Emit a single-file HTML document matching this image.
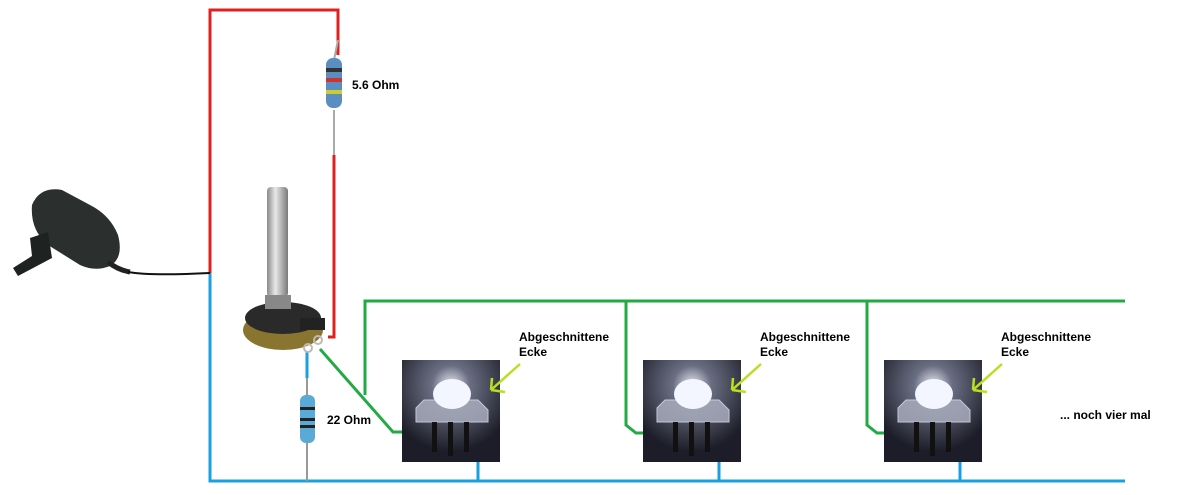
<!DOCTYPE html>
<html><head><style>
html,body{margin:0;padding:0;background:#fff;}
svg{display:block;}
text{font-family:"Liberation Sans",sans-serif;font-weight:bold;font-size:12px;fill:#000;}
</style></head><body>
<svg width="1181" height="495" viewBox="0 0 1181 495" xmlns="http://www.w3.org/2000/svg">
<defs>
<radialGradient id="led" cx="50%" cy="25%" r="65%">
<stop offset="0" stop-color="#e8eaf4"/><stop offset="0.3" stop-color="#6a6e82"/><stop offset="1" stop-color="#1c1d28"/>
</radialGradient>
<linearGradient id="shaft" x1="0" x2="1"><stop offset="0" stop-color="#8a8a8a"/><stop offset="0.4" stop-color="#e8e8e8"/><stop offset="1" stop-color="#7a7a7a"/></linearGradient>
<g id="ledg">
<rect x="0" y="0" width="98" height="102" fill="url(#led)"/>
<path d="M22 40 L76 40 L86 50 L86 62 L14 62 L14 48 Z" fill="#a8acbc" stroke="#dde" stroke-width="1" opacity="0.85"/>
<ellipse cx="50" cy="34" rx="19" ry="15" fill="#f4f6ff"/>
<rect x="30" y="62" width="5" height="30" fill="#111"/>
<rect x="46" y="62" width="5" height="34" fill="#111"/>
<rect x="62" y="62" width="5" height="30" fill="#111"/>
</g>
</defs>

<polyline points="210,273 210,10 338,10 338,55" fill="none" stroke="#e02020" stroke-width="3"/>
<line x1="334" y1="110" x2="334" y2="155" stroke="#aaa" stroke-width="2"/>
<line x1="338" y1="40" x2="334" y2="60" stroke="#aaa" stroke-width="2"/>
<polyline points="334,155 334,337 328,337" fill="none" stroke="#e02020" stroke-width="3"/>
<rect x="326" y="58" width="16" height="50" rx="7" fill="#5a8ec0"/>
<rect x="326" y="68" width="16" height="4" fill="#333"/>
<rect x="326" y="78" width="16" height="4" fill="#c33"/>
<rect x="326" y="90" width="16" height="4" fill="#cc3"/>
<text x="352" y="89">5.6 Ohm</text>

<polyline points="210,273 210,481 1125,481" fill="none" stroke="#1aa0e0" stroke-width="3"/>
<line x1="307" y1="352" x2="307" y2="378" stroke="#1aa0e0" stroke-width="3"/>
<line x1="307" y1="378" x2="307" y2="481" stroke="#999" stroke-width="2"/>
<rect x="300" y="395" width="15" height="48" rx="6" fill="#5aaad8"/>
<rect x="300" y="407" width="15" height="3" fill="#222"/>
<rect x="300" y="418" width="15" height="3" fill="#222"/>
<rect x="300" y="425" width="15" height="3" fill="#222"/>
<text x="327" y="424">22 Ohm</text>
<line x1="478" y1="436" x2="478" y2="481" stroke="#1aa0e0" stroke-width="3"/>
<line x1="719" y1="436" x2="719" y2="481" stroke="#1aa0e0" stroke-width="3"/>
<line x1="960" y1="436" x2="960" y2="481" stroke="#1aa0e0" stroke-width="3"/>

<path d="M32 205 Q40 186 62 190 L90 205 Q110 215 118 235 Q124 258 110 266 Q95 272 80 265 L48 245 Q30 230 32 205 Z" fill="#2b302f"/>
<path d="M30 238 L48 232 L52 258 L18 276 L13 268 L32 256 Z" fill="#1e2221"/>
<path d="M108 262 Q118 270 130 272" fill="none" stroke="#222" stroke-width="5"/>
<path d="M128 272 Q150 276 210 273" fill="none" stroke="#111" stroke-width="2"/>

<rect x="267" y="187" width="21" height="110" rx="4" fill="url(#shaft)"/>
<ellipse cx="283" cy="330" rx="40" ry="20" fill="#8a7530"/>
<ellipse cx="283" cy="318" rx="38" ry="16" fill="#2a2a2a"/>
<rect x="265" y="295" width="26" height="14" fill="#888"/>
<rect x="300" y="318" width="25" height="12" fill="#222"/>
<circle cx="308" cy="348" r="4" fill="none" stroke="#bbb" stroke-width="2"/>
<circle cx="318" cy="340" r="4" fill="none" stroke="#bbb" stroke-width="2"/>

<polyline points="1125,301 365,301 365,395" fill="none" stroke="#22aa44" stroke-width="3"/>
<polyline points="320,349 393,432 430,432" fill="none" stroke="#22aa44" stroke-width="3"/>
<polyline points="626,301 626,425 636,433 672,433" fill="none" stroke="#22aa44" stroke-width="3"/>
<polyline points="867,301 867,425 877,433 912,433" fill="none" stroke="#22aa44" stroke-width="3"/>

<use href="#ledg" x="402" y="360"/>
<use href="#ledg" x="643" y="360"/>
<use href="#ledg" x="884" y="360"/>

<g fill="none" stroke="#b8e020" stroke-width="2.5">
<path d="M520 364 L491 390 M491 390 L492 378 M491 390 L505 392"/>
<path d="M761 364 L732 390 M732 390 L733 378 M732 390 L746 392"/>
<path d="M1002 364 L973 390 M973 390 L974 378 M973 390 L987 392"/>
</g>
<text x="519" y="341">Abgeschnittene</text><text x="519" y="356">Ecke</text>
<text x="760" y="341">Abgeschnittene</text><text x="760" y="356">Ecke</text>
<text x="1001" y="341">Abgeschnittene</text><text x="1001" y="356">Ecke</text>
<text x="1060" y="419">... noch vier mal</text>
</svg>
</body></html>
